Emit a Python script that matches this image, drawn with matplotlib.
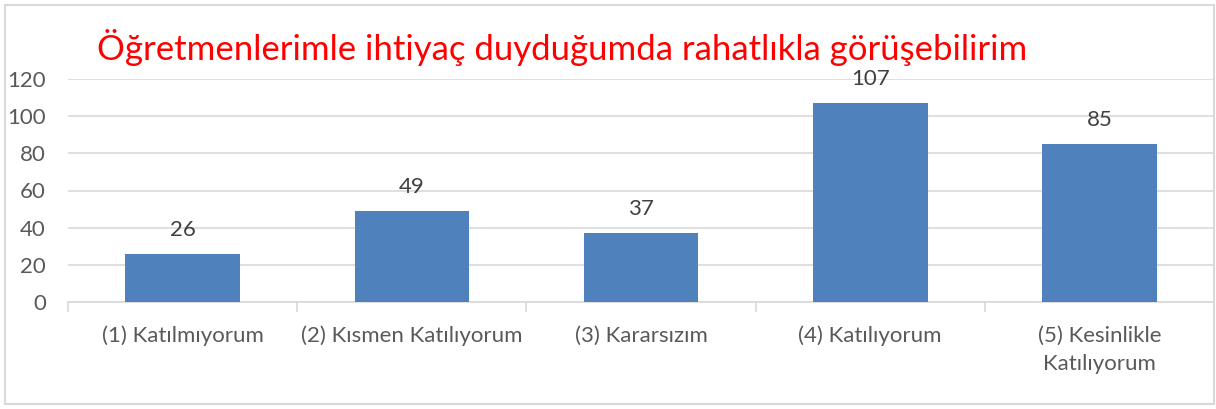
import matplotlib.pyplot as plt
from matplotlib.patches import Rectangle

# Data
categories = ['(1) Katılmıyorum', '(2) Kısmen Katılıyorum', '(3) Kararsızım',
              '(4) Katılıyorum', '(5) Kesinlikle\nKatılıyorum']
values = [26, 49, 37, 107, 85]
yticks = [0, 20, 40, 60, 80, 100, 120]
title = 'Öğretmenlerimle ihtiyaç duyduğumda rahatlıkla görüşebilirim'

plt.rcParams['font.family'] = ['Lato', 'DejaVu Sans']

fig = plt.figure(figsize=(12.16, 4.09), dpi=100)
ax = fig.add_axes([68/1216, 1-302/409, 1146/1216, 223/409])

x = range(len(categories))
ax.bar(x, values, width=0.5, color='#4F81BD', zorder=3)
for xi, v in zip(x, values):
    ax.annotate(str(v), (xi, v), xytext=(0, 10), textcoords='offset points',
                ha='center', va='bottom', fontsize=16, color='#404040')

ax.set_xlim(-0.5, len(categories) - 0.5)
ax.set_ylim(0, 120)
ax.set_yticks(yticks)
ax.yaxis.grid(True, color='#D9D9D9', linewidth=1.2, zorder=0)
ax.set_xticks(x)
ax.set_xticklabels(categories, fontsize=16, color='#595959', linespacing=1.5)
ax.set_xticks([i - 0.5 for i in range(len(categories) + 1)], minor=True)
ax.tick_params(axis='x', which='major', length=0, pad=17)
ax.tick_params(axis='x', which='minor', length=7, color='#D9D9D9', width=1.2)
ax.tick_params(axis='y', length=0, labelsize=16, labelcolor='#595959', pad=16)
for s in ['top', 'right', 'left']:
    ax.spines[s].set_visible(False)
ax.spines['bottom'].set_color('#D9D9D9')
ax.spines['bottom'].set_linewidth(1.2)

fig.text(97/1216, 1-60/409, title, color='#FF0000', fontsize=25, ha='left', va='baseline')

fig.patches.append(Rectangle((5/1216, 5/409), 1209/1216, 399/409, transform=fig.transFigure,
                             fill=False, edgecolor='#D9D9D9', linewidth=1.5))

fig.savefig('out.png', dpi=100)
